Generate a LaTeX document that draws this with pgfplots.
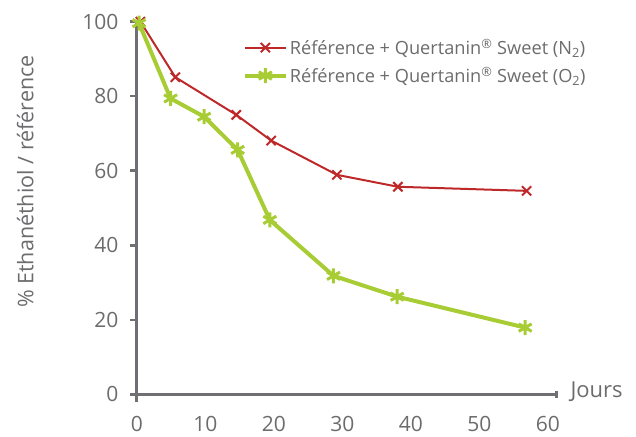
\documentclass[border=0pt]{standalone}
\usepackage{fontspec}
\setmainfont{Open Sans}
\usepackage{pgfplots}
\pgfplotsset{compat=1.18}
\definecolor{cred}{RGB}{190,40,40}
\definecolor{cgreen}{RGB}{168,204,52}
\definecolor{axgray}{RGB}{112,112,116}
\definecolor{txtgray}{RGB}{108,108,110}
\begin{document}
\begin{tikzpicture}
\useasboundingbox (-137pt,-41.7pt) rectangle (499pt,394.3pt);
\begin{axis}[
  at={(0,0)}, anchor=south west,
  scale only axis, width=419pt, height=372.6pt,
  xmin=0, xmax=61.2, ymin=0, ymax=100,
  axis x line=bottom, axis y line=left,
  axis line style={axgray, line width=3pt, -},
  xtick={0,10,...,60}, ytick={0,20,...,100},
  xtick style={draw=none},
  ytick style={axgray, line width=2.5pt},
  tick align=outside, major tick length=7pt,
  tick label style={font=\fontsize{21}{25}\selectfont, text=txtgray},
  /pgf/number format/assume math mode=true,
  xticklabel style={yshift=-11pt},
  yticklabel style={xshift=-8pt},
  ylabel={\% Ethanéthiol / référence},
  ylabel style={at={(axis description cs:-0.267,0.571)}, anchor=center, font=\fontsize{21.5}{25}\selectfont, text=txtgray},
  xlabel={Jours},
  xlabel style={at={(axis description cs:1,0)}, anchor=base west, xshift=11pt, yshift=-3pt, font=\fontsize{22}{26}\selectfont, text=txtgray},
  clip=false,
  legend style={at={(axis description cs:0.245,0.893)}, anchor=west, draw=none, fill=none,
    font=\fontsize{18.2}{21}\selectfont, text=txtgray, row sep=7pt},
  legend cell align=left,
  legend image code/.code={\draw[mark repeat=2,mark phase=2,#1] plot coordinates {(0pt,0pt)(20.5pt,0pt)(41pt,0pt)};},
]
\addplot[cred, line width=2pt, mark=x, mark size=6.5pt, mark options={line width=2pt}]
  coordinates {(0.5,100) (5.6,85.1) (14.5,75.0) (19.6,68.1) (29.2,58.9) (38.1,55.7) (56.9,54.6)};
\addlegendentry{Référence + Quertanin\textsuperscript{®} Sweet (N\textsubscript{2})}
\addplot[cgreen, line width=4pt, mark=asterisk, mark size=7.5pt, mark options={line width=3pt}]
  coordinates {(0.3,99.6) (4.9,79.4) (9.8,74.5) (14.7,65.6) (19.4,46.8) (28.7,31.8) (38.0,26.2) (56.7,17.9)};
\addlegendentry{Référence + Quertanin\textsuperscript{®} Sweet (O\textsubscript{2})}
\draw[axgray, line width=3pt] (axis cs:0,0) -- ++(0,-8pt);
\draw[axgray, line width=3pt] (axis cs:61.2,0) ++(0,-3.5pt) -- ++(0,7pt);
\end{axis}
\end{tikzpicture}
\end{document}
